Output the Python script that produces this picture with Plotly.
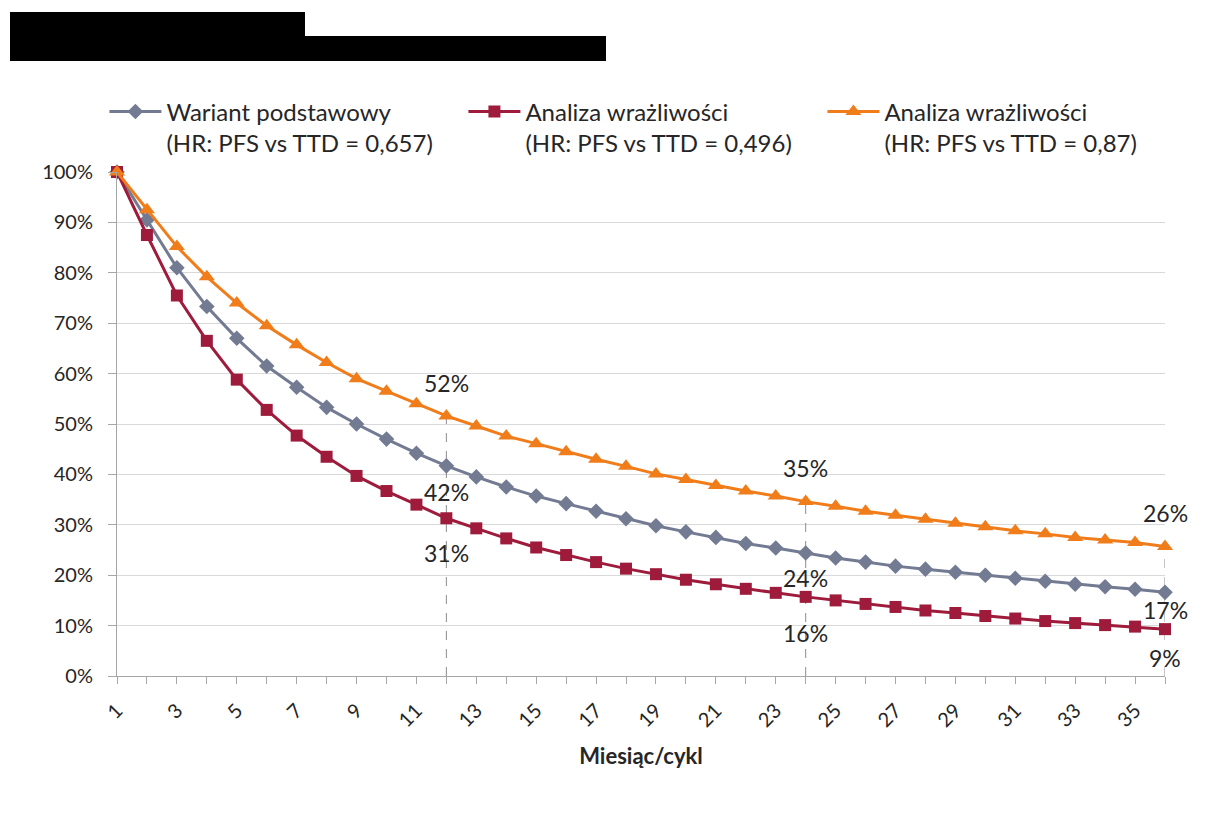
import plotly.graph_objects as go

# Months / cycles on the x axis
months = list(range(1, 37))

# Share of patients still on treatment in each cycle (fraction of 1)
base_case = [1.000, 0.905, 0.810, 0.733, 0.670, 0.615, 0.573, 0.533, 0.500, 0.470,
             0.442, 0.417, 0.395, 0.375, 0.357, 0.342, 0.327, 0.312, 0.298, 0.286,
             0.275, 0.263, 0.254, 0.244, 0.234, 0.226, 0.218, 0.212, 0.206, 0.200,
             0.194, 0.188, 0.182, 0.177, 0.172, 0.166]
sens_low = [1.000, 0.875, 0.755, 0.665, 0.588, 0.528, 0.477, 0.435, 0.397, 0.367,
            0.340, 0.313, 0.293, 0.273, 0.255, 0.240, 0.226, 0.213, 0.202, 0.191,
            0.182, 0.173, 0.165, 0.157, 0.150, 0.143, 0.137, 0.130, 0.125, 0.119,
            0.114, 0.109, 0.105, 0.101, 0.098, 0.093]
sens_high = [1.000, 0.925, 0.852, 0.792, 0.740, 0.695, 0.657, 0.622, 0.590, 0.565,
             0.540, 0.516, 0.496, 0.476, 0.461, 0.445, 0.430, 0.416, 0.401, 0.390,
             0.378, 0.367, 0.357, 0.346, 0.337, 0.327, 0.319, 0.311, 0.303, 0.296,
             0.288, 0.282, 0.275, 0.270, 0.265, 0.257]

series_names = ["Wariant podstawowy<br>(HR: PFS vs TTD = 0,657)",
                "Analiza wrażliwości<br>(HR: PFS vs TTD = 0,496)",
                "Analiza wrażliwości<br>(HR: PFS vs TTD = 0,87)"]

# Cycles at which values are called out
marked_months = [12, 24, 36]

x_tick_vals = list(range(1, 37, 2))
x_tick_text = [str(v) for v in x_tick_vals]
y_tick_vals = [i / 10 for i in range(11)]
y_tick_text = [f"{i * 10}%" for i in range(11)]

FONT = "Lato, 'Open Sans', sans-serif"
GRAY = "#737B93"
RED = "#9E1B3C"
ORANGE = "#F07C1A"
TEXT = "#262626"
AXIS = "#A6A6A6"

fig = go.Figure()

# Dashed drop lines at the marked cycles, from the top curve to zero
for m in marked_months:
    i = months.index(m)
    fig.add_trace(go.Scatter(
        x=[m, m], y=[0, sens_high[i]], mode="lines",
        line=dict(color="#8C8C8C", width=1, dash="dash"),
        showlegend=False, hoverinfo="skip", cliponaxis=False))

fig.add_trace(go.Scatter(
    x=months, y=base_case, name=series_names[0], mode="lines+markers",
    line=dict(color=GRAY, width=3),
    marker=dict(symbol="diamond", size=12, color=GRAY),
    cliponaxis=False))
fig.add_trace(go.Scatter(
    x=months, y=sens_low, name=series_names[1], mode="lines+markers",
    line=dict(color=RED, width=3),
    marker=dict(symbol="square", size=12, color=RED),
    cliponaxis=False))
fig.add_trace(go.Scatter(
    x=months, y=sens_high, name=series_names[2], mode="lines+markers",
    line=dict(color=ORANGE, width=3),
    marker=dict(symbol="triangle-up", size=14, color=ORANGE),
    cliponaxis=False))

# Value call-outs at the marked cycles
label_offsets = {
    12: (33, -26, -35),
    24: (34, -25, -36),
    36: (33, -18, -29),
}
for m in marked_months:
    i = months.index(m)
    off_high, off_base, off_low = label_offsets[m]
    for vals, dy in ((sens_high, off_high), (base_case, off_base), (sens_low, off_low)):
        fig.add_annotation(
            x=m, y=vals[i], text=f"{round(vals[i] * 100)}%",
            showarrow=False, yshift=dy,
            font=dict(family=FONT, size=23, color=TEXT))

# Redacted title blocks
fig.add_shape(type="rect", xref="paper", yref="paper",
              x0=(10 - 117) / 1048, x1=(305 - 117) / 1048,
              y0=(676 - 61) / 504, y1=(676 - 12) / 504,
              fillcolor="black", line=dict(width=0), layer="above")
fig.add_shape(type="rect", xref="paper", yref="paper",
              x0=(305 - 117) / 1048, x1=(606 - 117) / 1048,
              y0=(676 - 61) / 504, y1=(676 - 36) / 504,
              fillcolor="black", line=dict(width=0), layer="above")

fig.update_layout(
    width=1209, height=818,
    margin=dict(l=117, r=44, t=172, b=142),
    paper_bgcolor="white", plot_bgcolor="white",
    font=dict(family=FONT, size=20, color=TEXT),
    legend=dict(
        orientation="h", x=-0.012, y=1.164, xanchor="left", yanchor="top",
        entrywidth=292, entrywidthmode="pixels", valign="top",
        font=dict(family=FONT, size=24, color=TEXT),
        itemwidth=52, tracegroupgap=0, bgcolor="rgba(0,0,0,0)"),
    xaxis=dict(
        range=[1, 36], tickmode="array", tickvals=x_tick_vals, ticktext=x_tick_text,
        tickangle=-45, ticks="outside", ticklen=7, tickcolor=AXIS,
        showline=True, linecolor=AXIS, linewidth=1,
        showgrid=False, zeroline=False,
        minor=dict(dtick=1, tick0=1, ticks="outside", ticklen=7, tickcolor=AXIS),
        tickfont=dict(family=FONT, size=20, color=TEXT),
        ticklabelstandoff=7,
        title=dict(text="<b>Miesiąc/cykl</b>", standoff=18,
                   font=dict(family=FONT, size=22, color=TEXT))),
    yaxis=dict(
        range=[0, 1], tickmode="array", tickvals=y_tick_vals, ticktext=y_tick_text,
        ticks="outside", ticklen=8, tickcolor=AXIS,
        showline=True, linecolor=AXIS, linewidth=1,
        showgrid=True, gridcolor="#D9D9D9", gridwidth=1, zeroline=False,
        tickfont=dict(family=FONT, size=20, color=TEXT),
        ticklabelstandoff=11),
)

fig.write_html("out.html")
